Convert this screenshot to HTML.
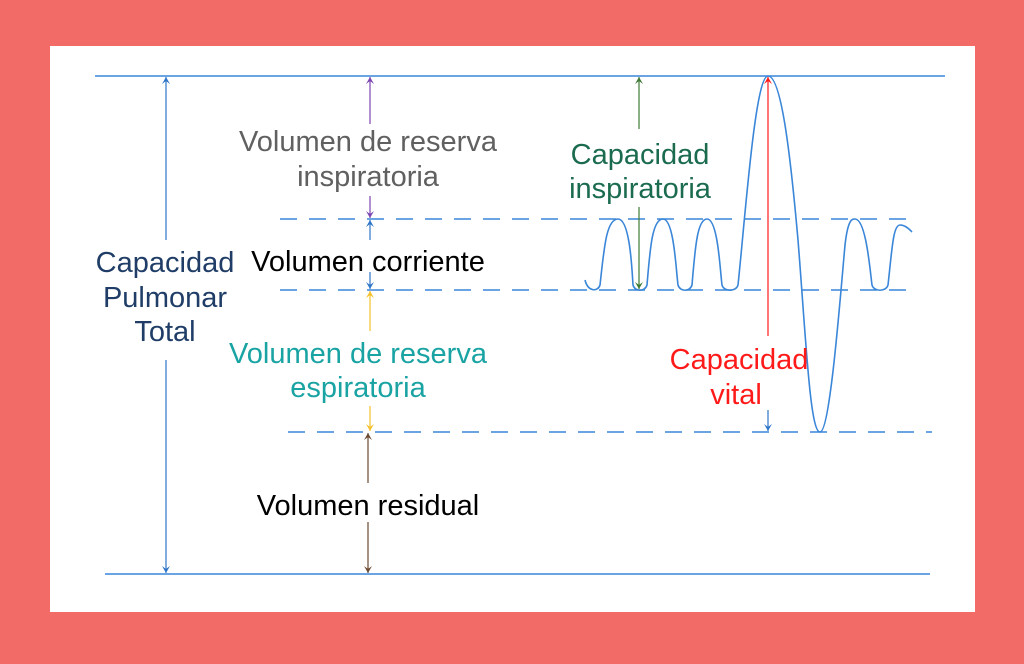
<!DOCTYPE html>
<html><head><meta charset="utf-8"><style>
html,body{margin:0;padding:0;background:#f26b66;}
body{width:1024px;height:664px;position:relative;overflow:hidden;}
svg{position:absolute;left:0;top:0;}
text{font-family:"Liberation Sans",sans-serif;font-size:29px;text-anchor:middle;}
</style></head><body>
<svg width="1024" height="664" viewBox="0 0 1024 664">
<defs>
<marker id="mb" markerWidth="8" markerHeight="8" refX="7" refY="4" orient="auto" markerUnits="userSpaceOnUse"><path d="M0,0 L7,4 L0,8 L3,4z" fill="#2e75c8"/></marker>
<marker id="mp" markerWidth="8" markerHeight="8" refX="7" refY="4" orient="auto" markerUnits="userSpaceOnUse"><path d="M0,0 L7,4 L0,8 L3,4z" fill="#7b45b0"/></marker>
<marker id="my" markerWidth="8" markerHeight="8" refX="7" refY="4" orient="auto" markerUnits="userSpaceOnUse"><path d="M0,0 L7,4 L0,8 L3,4z" fill="#f5c02a"/></marker>
<marker id="mbr" markerWidth="8" markerHeight="8" refX="7" refY="4" orient="auto" markerUnits="userSpaceOnUse"><path d="M0,0 L7,4 L0,8 L3,4z" fill="#6b4a30"/></marker>
<marker id="mg" markerWidth="8" markerHeight="8" refX="7" refY="4" orient="auto" markerUnits="userSpaceOnUse"><path d="M0,0 L7,4 L0,8 L3,4z" fill="#3f7a35"/></marker>
<marker id="mr" markerWidth="8" markerHeight="8" refX="7" refY="4" orient="auto" markerUnits="userSpaceOnUse"><path d="M0,0 L7,4 L0,8 L3,4z" fill="#ff1a1a"/></marker>
</defs>
<rect x="50" y="46" width="925" height="566" fill="#fff"/>
<g stroke="#3a86d8" stroke-width="1.4" fill="none">
<line x1="95" y1="76" x2="945" y2="76"/>
<line x1="105" y1="574" x2="930" y2="574"/>
<line x1="280" y1="219" x2="918" y2="219" stroke-dasharray="17,12"/>
<line x1="280" y1="290" x2="918" y2="290" stroke-dasharray="17,12"/>
<line x1="288" y1="432" x2="932" y2="432" stroke-dasharray="17,12"/>
<path stroke-width="1.6" d="M585,280 C588,292 598,292 600,285 C604,250 606,219 618,219 C630,219 632,270 633,285 C635,292 645,292 647,285 C650,250 652,219 663,219 C674,219 676,270 678,285 C680,292 690,292 692,285 C695,250 697,219 707,219 C718,219 720,270 722,285 C724,292 736,292 738,285 C745,220 755,76 768,76 C781,76 790,150 798,240 C806,340 810,432 820,432 C830,432 840,300 845,245 C848,219 852,219 855,219 C866,219 870,270 872,285 C874,292 886,292 888,285 C892,250 893,225 900,225 C906,225 910,230 912,232"/>
</g>
<g stroke-width="1.2">
<line x1="166" y1="240" x2="166" y2="77" stroke="#2e75c8" marker-end="url(#mb)"/>
<line x1="166" y1="360" x2="166" y2="573" stroke="#2e75c8" marker-end="url(#mb)"/>
<line x1="370" y1="124" x2="370" y2="77" stroke="#7b45b0" marker-end="url(#mp)"/>
<line x1="370" y1="196" x2="370" y2="218" stroke="#7b45b0" marker-end="url(#mp)"/>
<line x1="370" y1="240" x2="370" y2="220" stroke="#2e75c8" marker-end="url(#mb)"/>
<line x1="370" y1="272" x2="370" y2="289" stroke="#2e75c8" marker-end="url(#mb)"/>
<line x1="370" y1="331" x2="370" y2="291" stroke="#f5c02a" marker-end="url(#my)"/>
<line x1="370" y1="406" x2="370" y2="431" stroke="#f5c02a" marker-end="url(#my)"/>
<line x1="368" y1="483" x2="368" y2="433" stroke="#6b4a30" marker-end="url(#mbr)"/>
<line x1="368" y1="522" x2="368" y2="573" stroke="#6b4a30" marker-end="url(#mbr)"/>
<line x1="639" y1="129" x2="639" y2="77" stroke="#3f7a35" marker-end="url(#mg)"/>
<line x1="639" y1="207" x2="639" y2="289" stroke="#3f7a35" marker-end="url(#mg)"/>
<line x1="768" y1="336" x2="768" y2="77" stroke="#ff1a1a" marker-end="url(#mr)"/>
<line x1="768" y1="410" x2="768" y2="431" stroke="#2e75c8" marker-end="url(#mb)"/>
</g>
<text x="165" y="272" fill="#1f3d66">Capacidad</text>
<text x="165" y="307" fill="#1f3d66">Pulmonar</text>
<text x="165" y="341" fill="#1f3d66">Total</text>
<text x="368" y="151" fill="#606060">Volumen de reserva</text>
<text x="368" y="186" fill="#606060">inspiratoria</text>
<text x="368" y="271" fill="#000">Volumen corriente</text>
<text x="358" y="363" fill="#1aa3a3">Volumen de reserva</text>
<text x="358" y="397" fill="#1aa3a3">espiratoria</text>
<text x="368" y="515" fill="#000">Volumen residual</text>
<text x="640" y="164" fill="#1b6b4f">Capacidad</text>
<text x="640" y="198" fill="#1b6b4f">inspiratoria</text>
<text x="739" y="369" fill="#ff1a1a">Capacidad</text>
<text x="736" y="404" fill="#ff1a1a">vital</text>
</svg>
</body></html>
